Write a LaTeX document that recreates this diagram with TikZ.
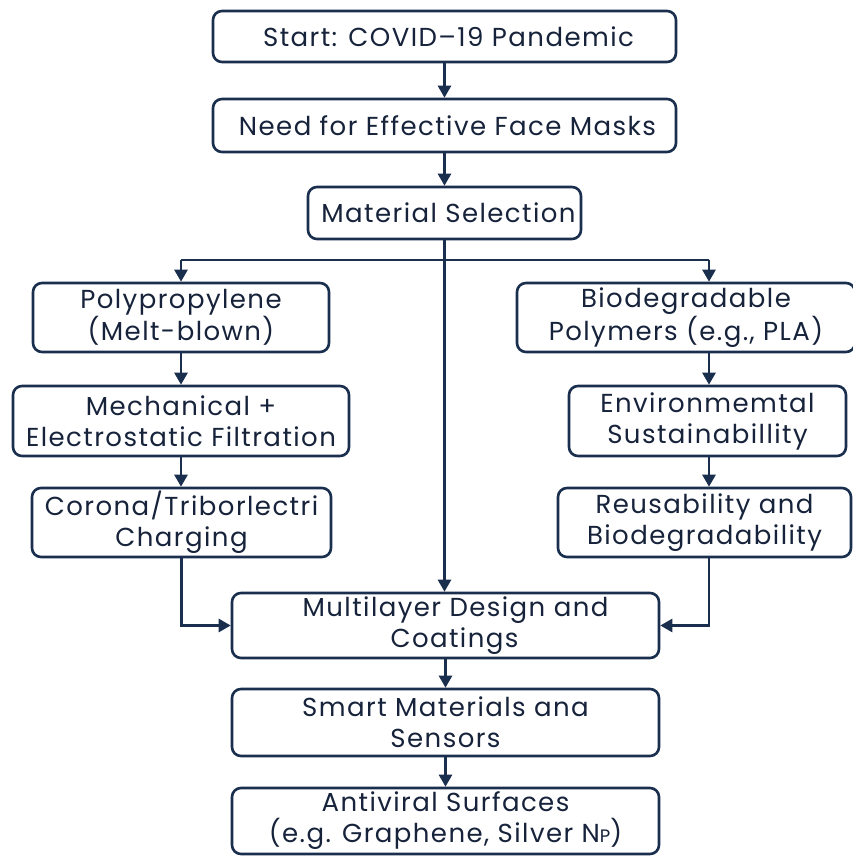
\documentclass[tikz,border=0pt]{standalone}
\usepackage{fontspec}
\setmainfont{Poppins}[Ligatures=NoCommon, LetterSpace=5.5]
\usetikzlibrary{arrows.meta}
\definecolor{navy}{HTML}{1A2F4E}
\definecolor{ink}{HTML}{16233B}
\begin{document}
\begin{tikzpicture}[x=1pt,y=-1pt,
 box/.style={draw=navy, line width=2.6pt, rounded corners=9pt, fill=white, text=ink, align=center, font=\fontsize{26}{31}\selectfont, inner sep=0pt},
 conn/.style={draw=navy, line width=2.6pt, -{Triangle[width=13pt,length=12pt]}},
 plain/.style={draw=navy, line width=2.6pt},
]
\useasboundingbox[fill=white] (0,0) rectangle (853,856);
\node[box, minimum width=463pt, minimum height=51pt] (start) at (444.5,36.5) {\hspace*{8pt}Start: COVID–19 Pandemic};
\node[box, minimum width=463pt, minimum height=53pt] (need) at (444.5,125.5) {\hspace*{6pt}Need for Effective Face Masks};
\node[box, minimum width=273pt, minimum height=52pt] (mat) at (444.5,213) {\hspace*{8pt}Material Selection};
\node[box, minimum width=296pt, minimum height=69pt] (poly) at (181,317.5) {Polypropylene\\(Melt-blown)};
\node[box, minimum width=338pt, minimum height=69pt] (bio) at (686,317.5) {Biodegradable\\Polymers (e.g., PLA)};
\node[box, minimum width=336pt, minimum height=70pt] (mech) at (181,421) {Mechanical +\\Electrostatic Filtration};
\node[box, minimum width=277pt, minimum height=70pt] (env) at (707.5,421) {Environmemtal\\Sustainabillity};
\node[box, minimum width=299pt, minimum height=69pt] (corona) at (181.5,522.5) {Corona/Triborlectri\\Charging};
\node[box, minimum width=293pt, minimum height=69pt] (reuse) at (704.5,522.5) {Reusability and\\Biodegradability};
\node[box, minimum width=427pt, minimum height=65pt] (multi) at (445.5,625.5) {\hspace*{20pt}Multilayer Design and\\\hspace*{18pt}Coatings};
\node[box, minimum width=427pt, minimum height=67pt] (smart) at (445.5,722.5) {Smart Materials ana\\Sensors};
\node[box, minimum width=427pt, minimum height=66pt] (anti) at (445.5,821) {Antiviral Surfaces\\(e.g. Graphene, Silver N{\fontsize{18}{20}\selectfont P})};
\coordinate (jl) at (181,260);
\coordinate (jr) at (709,260);
\draw[conn] (start) -- (need);
\draw[conn] (need) -- (need |- mat.north);
\draw[plain] (jl) -- (jr);
\draw[conn] (jl) -- (poly.north);
\draw[conn] (jr) -- (jr |- bio.north);
\draw[conn] (mat.south) -- (mat.south |- multi.north);
\draw[conn] (poly) -- (mech);
\draw[conn] (mech) -- (corona.north -| mech);
\draw[conn] (jr |- bio.south) -- (jr |- env.north);
\draw[conn] (jr |- env.south) -- (jr |- reuse.north);
\draw[conn] (corona.south) |- (multi.west);
\draw[conn] (jr |- reuse.south) |- (multi.east);
\draw[conn] (multi) -- (smart);
\draw[conn] (smart) -- (anti);
\end{tikzpicture}
\end{document}
